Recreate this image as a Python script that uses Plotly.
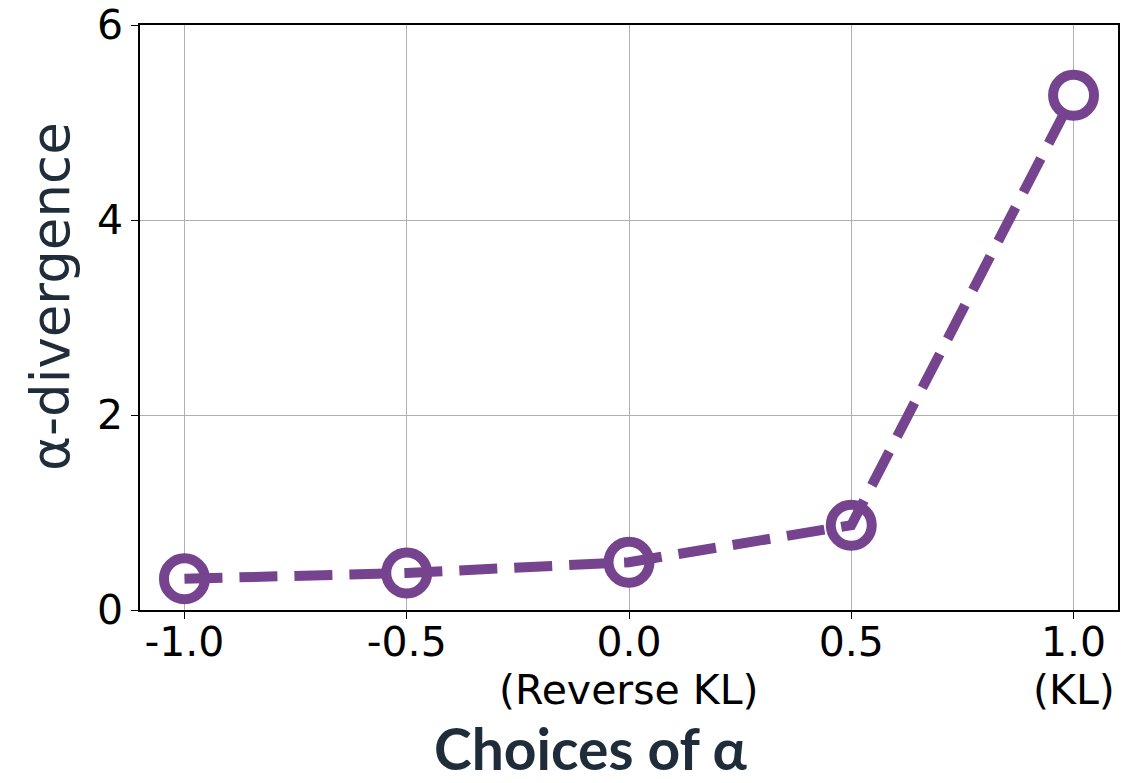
import plotly.graph_objects as go

alphas = [-1.0, -0.5, 0.0, 0.5, 1.0]
divergence = [0.32, 0.38, 0.49, 0.87, 5.28]
tick_vals = [-1.0, -0.5, 0.0, 0.5, 1.0]
tick_text = ["-1.0", "-0.5", "0.0", "0.5", "1.0"]
tick_notes = {0.0: "(Reverse KL)", 1.0: "(KL)"}
y_ticks = [0, 2, 4, 6]

purple = "#76448f"

fig = go.Figure()
fig.add_trace(go.Scatter(
    x=alphas, y=divergence, mode="markers",
    marker=dict(symbol="circle", size=41, color="white",
                line=dict(color=purple, width=10)),
    showlegend=False, hoverinfo="skip",
))
fig.add_trace(go.Scatter(
    x=alphas, y=divergence, mode="lines",
    line=dict(color=purple, width=10, dash="38px,17px"),
    showlegend=False,
))

annotations = [
    dict(text="<b>Choices of α</b>", xref="paper", yref="paper",
         x=0.461, y=-0.236, xanchor="center", yanchor="middle",
         showarrow=False,
         font=dict(family="Lato", size=57, color="#1f2d3a")),
    dict(text="α-divergence", xref="paper", yref="paper",
         x=-0.092, y=0.535, xanchor="center", yanchor="middle",
         textangle=-90, showarrow=False,
         font=dict(family="DejaVu Sans", size=53, color="#1f2d3a")),
]
for xv, note in tick_notes.items():
    annotations.append(dict(
        text=note, xref="x", yref="paper", x=xv, y=-0.137,
        xanchor="center", yanchor="middle", showarrow=False,
        font=dict(family="DejaVu Sans", size=41, color="black")))

fig.update_layout(
    width=1129, height=783,
    margin=dict(l=140, r=11, t=25, b=173),
    paper_bgcolor="white", plot_bgcolor="white",
    font=dict(family="DejaVu Sans", size=38, color="black"),
    annotations=annotations,
)
fig.update_xaxes(
    range=[-1.1, 1.1], tickvals=tick_vals, ticktext=tick_text,
    automargin=False,
    showgrid=True, gridcolor="#b0b0b0", gridwidth=1,
    showline=True, linecolor="black", linewidth=1.5, mirror=True,
    ticks="outside", ticklen=7, tickwidth=1.2, tickcolor="black",
    tickfont=dict(family="DejaVu Sans", size=41, color="black"),
    ticklabelstandoff=-12,
    zeroline=False,
)
fig.update_yaxes(
    range=[0, 6], tickvals=y_ticks,
    automargin=False,
    showgrid=True, gridcolor="#b0b0b0", gridwidth=1,
    showline=True, linecolor="black", linewidth=1.5, mirror=True,
    ticks="outside", ticklen=7, tickwidth=1.2, tickcolor="black",
    tickfont=dict(family="DejaVu Sans", size=41, color="black"),
    zeroline=False,
)

fig.write_html("out.html", config={"displayModeBar": False},
               post_script="document.body.style.margin='0';")
